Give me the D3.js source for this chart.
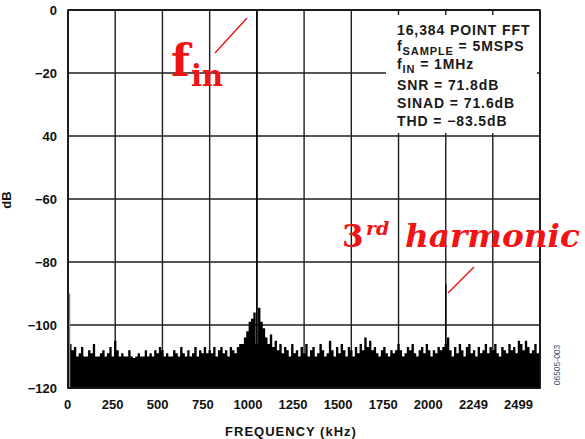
<!DOCTYPE html>
<html><head><meta charset="utf-8">
<script src="https://cdn.jsdelivr.net/npm/d3@7"></script>
<style>
html,body{margin:0;padding:0;background:#fff;}
svg{display:block;}
</style></head>
<body>
<svg id="chart" width="585" height="439"></svg>
<script>
// ---- data ----
const binStepKHz = 12.5;               // FFT display bin spacing (kHz)
const spectrumDb = [
  -90,-106,-108,-107,-110,-109,-107,-110,-110,-108,-109,-106,-110,-110,-109,-108,-110,-109,-107,-110,
  -105,-108,-110,-109,-110,-110,-108,-110,-110.5,-110,-109,-110,-110,-108,-110,-109,-110,-108,-109,-107,
  -108,-110,-109,-110,-110,-108,-109,-110,-107,-109,-110,-108,-110,-109,-107,-110,-108,-109,-107,-109,
  -108,-109,-107,-110,-108,-107,-109,-108,-110,-107,-108,-109,-107,-106,-106,-104,-102,-99,-98,-96,
  0,-94.5,-99,-101,-104,-106,-103,-107,-105,-108,-106,-109,-107,-108,-110,-106,-109,-108,-110,-107,
  -109,-106,-110,-108,-107,-110,-109,-106,-108,-110,-109,-105,-108,-110,-107,-109,-106,-108,-110,-107,
  -108,-110,-107,-109,-106,-108,-104,-107,-105,-108,-107,-109,-110,-108,-107,-109,-110,-108,-109,-108,
  -106,-108,-110,-109,-107,-108,-106,-109,-110,-108,-107,-109,-106,-108,-110,-108,-109,-107,-108,-107,
  -87,-104,-108,-110,-107,-109,-106,-108,-110,-107,-106,-109,-108,-110,-107,-109,-108,-106,-109,-107,
  -108,-106,-109,-110,-107,-108,-109,-106,-108,-107,-109,-105,-106,-108,-105,-107,-109,-108,-106,-109,-108
];
const xTickValues = [0,250,500,750,1000,1250,1500,1750,2000,2249,2499];
const xTickLabels = ["0","250","500","750","1000","1250","1500","1750","2000","2249","2499"];
const yTickValues = [0,-20,-40,-60,-80,-100,-120];
const yTickLabels = ["0","\u221220","40","\u221260","\u221280","\u2212100","\u2212120"];
const legendLines = [
  {main:"16,384 POINT FFT"},
  {main:"f", sub:"SAMPLE", rest:" = 5MSPS"},
  {main:"f", sub:"IN", rest:" = 1MHz"},
  {main:"SNR = 71.8dB"},
  {main:"SINAD = 71.6dB"},
  {main:"THD = \u221283.5dB"}
];
const xTitle = "FREQUENCY (kHz)";
const yTitle = "dB";
const figId = "06505-003";

// ---- layout ----
const svg = d3.select("#chart");
const L = 68, R = 540, T = 10, B = 388;
const x = d3.scaleLinear().domain([0,2499]).range([L,R]);
const y = d3.scaleLinear().domain([-120,0]).range([B,T]);
const xLab = d3.scalePoint().domain(xTickLabels).range([67,518]);
const font = "'Liberation Sans', Arial, sans-serif";
const peakCut = -93;   // bins above this are drawn as thin spectral lines

svg.append("defs").append("clipPath").attr("id","plotclip")
  .append("rect").attr("x",L).attr("y",T).attr("width",R-L).attr("height",B-T);

// grid
const grid = svg.append("g");
grid.selectAll("line.v").data(xTickValues).join("line")
  .attr("x1",d=>x(d)).attr("x2",d=>x(d)).attr("y1",T).attr("y2",B)
  .attr("stroke","#1e1e1e").attr("stroke-width",1.4);
grid.selectAll("line.h").data(yTickValues).join("line")
  .attr("x1",L).attr("x2",R).attr("y1",d=>y(d)).attr("y2",d=>y(d))
  .attr("stroke","#1e1e1e").attr("stroke-width",1.4);

// spectrum (solid step area for the noise floor)
const spec = spectrumDb.map((v,i)=>({f:i*binStepKHz, v}));
const area = d3.area().curve(d3.curveStep)
  .x(d=>x(d.f)).y0(y(-120)).y1(d=>y(Math.min(d.v, d.v > peakCut ? -106 : d.v)));
const sg = svg.append("g").attr("clip-path","url(#plotclip)");
sg.append("path").datum(spec).attr("d",area).attr("fill","#000");
// thin spectral lines: fundamental, 3rd harmonic, DC (grey)
sg.selectAll("line").data(spec.filter(d=>d.v > peakCut)).join("line")
  .attr("x1",d=> d.f===0 ? L+1.5 : x(d.f)).attr("x2",d=> d.f===0 ? L+1.5 : x(d.f))
  .attr("y1",d=>y(d.v)).attr("y2",y(-120))
  .attr("stroke",d=> d.f===0 ? "#888" : "#000").attr("stroke-width",d=> d.f===0 ? 1.6 : 1.5);

// legend box
svg.append("rect").attr("x",386).attr("y",15).attr("width",151).attr("height",118).attr("fill","#fff");
const lg = svg.append("g").attr("font-family",font).attr("font-weight","bold")
  .attr("font-size",14).attr("fill","#1a1a1a").attr("letter-spacing","0.9px");
const lgY = [35,51,69,90,108,126];
legendLines.forEach((ln,i)=>{
  const t = lg.append("text").attr("x",397).attr("y",lgY[i]);
  t.append("tspan").text(ln.main);
  if (ln.sub){
    t.append("tspan").attr("dy",3.5).attr("font-size",11).text(ln.sub);
    t.append("tspan").attr("dy",-3.5).text(ln.rest);
  }
});

// frame
svg.append("rect").attr("x",L).attr("y",T).attr("width",R-L).attr("height",B-T)
  .attr("fill","none").attr("stroke","#111").attr("stroke-width",1.7);

// axes
const ya = svg.append("g").attr("transform",`translate(${L},0)`)
  .call(d3.axisLeft(y).tickValues(yTickValues).tickSize(0).tickPadding(11)
        .tickFormat((d,i)=>yTickLabels[i]));
ya.select(".domain").remove();
ya.selectAll("text").attr("font-family",font).attr("font-weight","bold")
  .attr("font-size",13).attr("fill","#111").attr("dy","0.36em");

const xa = svg.append("g").attr("transform",`translate(0,${B})`)
  .call(d3.axisBottom(xLab).tickSize(0).tickPadding(12));
xa.select(".domain").remove();
xa.selectAll("text").attr("font-family",font).attr("font-weight","bold")
  .attr("font-size",13).attr("fill","#111");

svg.append("text").attr("x",291).attr("y",436).attr("text-anchor","middle")
  .attr("font-family",font).attr("font-weight","bold").attr("font-size",13)
  .attr("letter-spacing","1px").attr("fill","#111").text(xTitle);
svg.append("text").attr("transform","translate(11,200) rotate(-90)").attr("text-anchor","middle")
  .attr("font-family",font).attr("font-weight","bold").attr("font-size",13)
  .attr("fill","#111").text(yTitle);

svg.append("text").attr("transform","translate(560,365) rotate(-90)").attr("text-anchor","middle")
  .attr("font-family",font).attr("font-size",8.5).attr("fill","#3c4f80").text(figId);

// red annotations
const red = "#f01414";
const serif = "'DejaVu Serif','Liberation Serif',serif";
const ann = svg.append("g").attr("fill",red).attr("font-family",serif).attr("font-weight","bold");
ann.append("text").attr("x",171).attr("y",76).attr("font-size",44).text("f");
ann.append("text").attr("x",191).attr("y",86).attr("font-size",29).text("in");
svg.append("line").attr("x1",215).attr("y1",53).attr("x2",247).attr("y2",18)
  .attr("stroke",red).attr("stroke-width",1.4);

ann.append("text").attr("x",342).attr("y",247).attr("font-size",31).text("3");
ann.append("text").attr("x",366).attr("y",235).attr("font-size",19).attr("font-style","italic").text("rd");
ann.append("text").attr("x",405).attr("y",247).attr("font-size",32).attr("font-style","italic")
  .attr("textLength",175).attr("lengthAdjust","spacingAndGlyphs").text("harmonic");
svg.append("line").attr("x1",448).attr("y1",293).attr("x2",474).attr("y2",267)
  .attr("stroke",red).attr("stroke-width",1.4);
</script>
</body></html>
